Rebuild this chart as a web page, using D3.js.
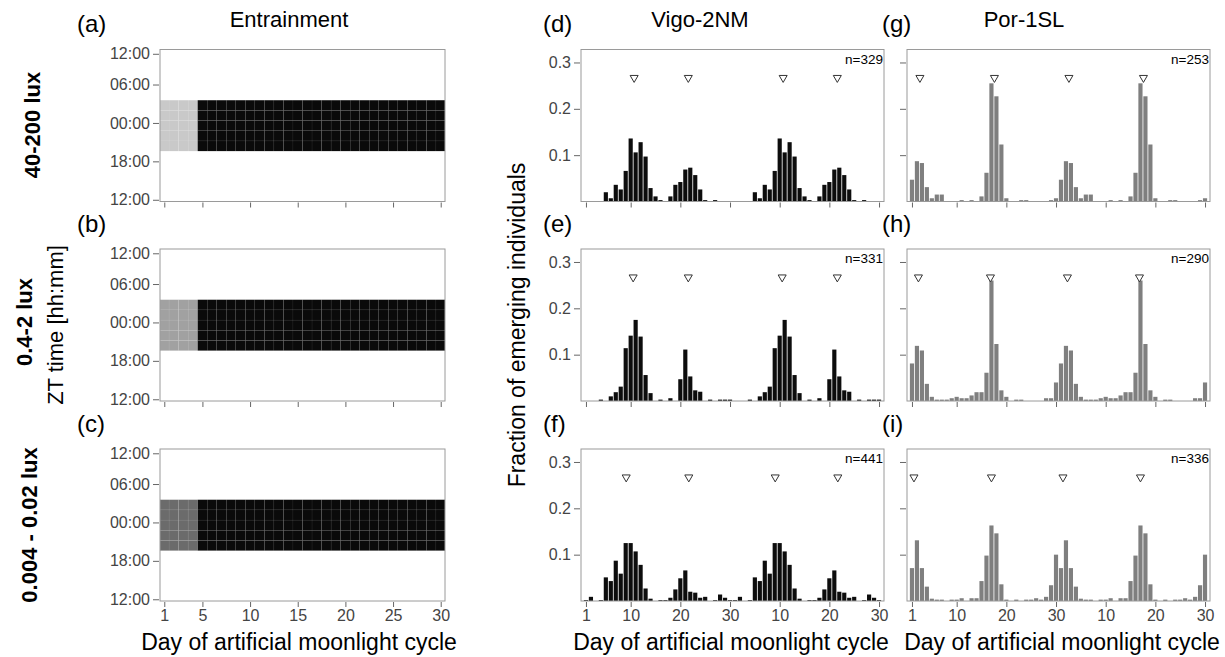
<!DOCTYPE html>
<html>
<head>
<meta charset="utf-8">
<script src="https://cdn.jsdelivr.net/npm/d3@7"></script>
<style>
  body { margin: 0; background: #fff; }
  svg { font-family: "Liberation Sans", Arial, Helvetica, sans-serif; }
  .tick line { stroke: #666; }
  .tick text { fill: #444; font-size: 16px; }
</style>
</head>
<body>
<div id="chart"></div>
<script>
// entrainment schedule
const lightLevels = ["40-200 lux", "0.4-2 lux", "0.004 - 0.02 lux"];
const moonGrey = ["#c9c9c9", "#a1a1a1", "#6b6b6b"];
const moonlightDays = [1, 2, 3, 4];
const nightStart = 19.6;   // ZT hours counted from 12:00
const nightEnd = 27.55;
const ztTicks = [12, 18, 24, 30, 34.8];
const ztLabels = ["12:00", "18:00", "00:00", "06:00", "12:00"];
const entrainTicks = [1, 5, 10, 15, 20, 25, 30];

// fraction of emerging individuals per day of moonlight cycle (days 1-30)
const vigoHigh = [0, 0, 0, 0, 0.020, 0.007, 0.036, 0.026, 0.066, 0.136, 0.106, 0.128, 0.097, 0.029, 0.011,
  0.003, 0, 0.011, 0.036, 0.042, 0.069, 0.073, 0.057, 0.026, 0.003, 0, 0.003, 0, 0, 0];
const vigoMid = [0, 0, 0, 0.003, 0, 0.010, 0.019, 0.031, 0.114, 0.141, 0.175, 0.139, 0.056, 0.017, 0,
  0.003, 0, 0.006, 0, 0.047, 0.111, 0.053, 0.023, 0.020, 0, 0.003, 0, 0.003, 0.003, 0.003];
const vigoLow = [0.002, 0.009, 0, 0.002, 0.051, 0.043, 0.087, 0.059, 0.125, 0.125, 0.107, 0.078, 0.027, 0.005, 0,
  0.002, 0.002, 0.007, 0.025, 0.049, 0.066, 0.020, 0.018, 0.007, 0.009, 0, 0.002, 0.014, 0.007, 0.002];
const porHigh = [0.047, 0.087, 0.083, 0.031, 0.007, 0.015, 0.015, 0, 0, 0, 0.003, 0, 0.003, 0, 0.011,
  0.062, 0.255, 0.227, 0.123, 0.007, 0, 0, 0.003, 0.003, 0, 0, 0, 0, 0.003, 0.007];
const porMid = [0.081, 0.119, 0.109, 0.037, 0.009, 0.003, 0.003, 0.003, 0.006, 0.009, 0.006, 0.006, 0.012, 0.019, 0.019,
  0.061, 0.260, 0.123, 0.023, 0.009, 0, 0.003, 0.003, 0, 0, 0, 0, 0.006, 0.006, 0.040];
const porLow = [0.071, 0.131, 0.071, 0.031, 0.005, 0.003, 0.003, 0, 0.003, 0.003, 0.006, 0, 0.006, 0.006, 0.043,
  0.098, 0.163, 0.146, 0.036, 0.003, 0, 0.003, 0, 0.003, 0.003, 0.006, 0.003, 0.009, 0.034, 0.100];

const vigoN = [329, 331, 441];
const porN = [253, 290, 336];
// emergence peak markers (day of cycle)
const vigoPeaks = [[10.7, 21.6], [10.5, 21.6], [9.1, 21.7]];
const porPeaks = [[2.6, 17.6], [2.3, 16.8], [1.4, 17.0]];
const peakLevel = 0.267;

const histTicks = [1, 10, 20, 30, 40, 50, 60];
const histTickLabels = ["1", "10", "20", "30", "10", "20", "30"];
const fracTicks = [0.1, 0.2, 0.3];

const W = 1225, H = 657;
const rowTop = [49.5, 249, 449];
const boxH = 152;
const col1 = [160, 445], col2 = [581, 884], col3 = [907, 1210];

const svg = d3.select("#chart").append("svg")
  .attr("width", W).attr("height", H);
svg.append("rect").attr("width", W).attr("height", H).attr("fill", "#fff");

const xEntrain = d3.scaleLinear().domain([0.55, 30.45]).range(col1);

function box(g, x0, x1, y0) {
  g.append("rect")
    .attr("x", x0).attr("y", y0)
    .attr("width", x1 - x0).attr("height", boxH)
    .attr("fill", "none").attr("stroke", "#9a9a9a").attr("stroke-width", 1);
}

// ---- entrainment panels (a)-(c)
lightLevels.forEach((lvl, r) => {
  const top = rowTop[r], bottom = top + boxH;
  const y = d3.scaleLinear().domain([11.73, 35.47]).range([bottom, top]);
  const g = svg.append("g");

  const rows = 5;
  const step = (nightEnd - nightStart) / rows;
  const cells = [];
  d3.range(1, 31).forEach(d => {
    d3.range(rows).forEach(k => cells.push({ day: d, h0: nightStart + k * step, h1: nightStart + (k + 1) * step }));
  });
  g.selectAll(".cell").data(cells).enter().append("rect")
    .attr("x", d => xEntrain(Math.max(d.day - 0.5, 0.55)))
    .attr("width", d => xEntrain(Math.min(d.day + 0.5, 30.45)) - xEntrain(Math.max(d.day - 0.5, 0.55)))
    .attr("y", d => y(d.h1))
    .attr("height", d => y(d.h0) - y(d.h1))
    .attr("fill", d => moonlightDays.includes(d.day) ? moonGrey[r] : "#0a0a0a")
    .attr("stroke", "rgba(255,255,255,0.08)")
    .attr("stroke-width", 0.5);

  box(g, col1[0], col1[1], top);

  g.append("g")
    .attr("transform", `translate(${col1[0] - 1},0)`)
    .call(d3.axisLeft(y).tickValues(ztTicks).tickSize(6).tickSizeOuter(0)
      .tickFormat((d, i) => ztLabels[i]))
    .call(a => a.select(".domain").remove());

  g.append("g")
    .attr("transform", `translate(0,${bottom + 1})`)
    .call(d3.axisBottom(xEntrain).tickValues(entrainTicks).tickSize(5).tickSizeOuter(0)
      .tickFormat(r === 2 ? d3.format("d") : ""))
    .call(a => a.select(".domain").remove());

  svg.append("text")
    .attr("transform", `translate(${[40, 32, 37][r]},${[125, 322, 525][r]}) rotate(-90)`)
    .attr("text-anchor", "middle")
    .attr("font-weight", "bold").attr("font-size", 22)
    .text(lvl);
});

// ---- histogram panels (d)-(i)
function histPanel(values, n, peaks, top, xr, fill, showY, showX) {
  const bottom = top + boxH;
  const x = d3.scaleLinear().domain([0, 61]).range(xr);
  const y = d3.scaleLinear().domain([0, 0.328]).range([bottom, top]);
  const g = svg.append("g");
  const dw = x(1) - x(0);

  const doubled = d3.range(1, 61).map(d => ({ day: d, v: values[(d - 1) % 30] }));
  g.selectAll(".bar").data(doubled.filter(d => d.v > 0)).enter().append("rect")
    .attr("x", d => x(d.day) - dw / 2 + 0.4)
    .attr("width", dw - 0.8)
    .attr("y", d => y(d.v))
    .attr("height", d => y(0) - y(d.v))
    .attr("fill", fill);

  const marks = peaks.concat(peaks.map(p => p + 30));
  g.selectAll(".peak").data(marks).enter().append("path")
    .attr("d", d3.symbol().type(d3.symbolTriangle).size(28))
    .attr("transform", d => `translate(${x(d)},${y(peakLevel)}) rotate(180)`)
    .attr("fill", "#fff").attr("stroke", "#333").attr("stroke-width", 1);

  box(g, xr[0], xr[1], top);

  g.append("text")
    .attr("x", xr[1] - 1).attr("y", top + 14)
    .attr("text-anchor", "end").attr("font-size", 13.5)
    .text("n=" + n);

  g.append("g")
    .attr("transform", `translate(${xr[0] - 1},0)`)
    .call(d3.axisLeft(y).tickValues(fracTicks).tickSize(6).tickSizeOuter(0)
      .tickFormat(showY ? d3.format(".1f") : ""))
    .call(a => a.select(".domain").remove());

  g.append("g")
    .attr("transform", `translate(0,${bottom + 1})`)
    .call(d3.axisBottom(x).tickValues(histTicks).tickSize(5).tickSizeOuter(0)
      .tickFormat((d, i) => showX ? histTickLabels[i] : ""))
    .call(a => a.select(".domain").remove());
}

const vigoSeries = [vigoHigh, vigoMid, vigoLow];
const porSeries = [porHigh, porMid, porLow];
[0, 1, 2].forEach(r => {
  histPanel(vigoSeries[r], vigoN[r], vigoPeaks[r], rowTop[r], col2, "#0d0d0d", true, r === 2);
  histPanel(porSeries[r], porN[r], porPeaks[r], rowTop[r], col3, "#7f7f7f", false, r === 2);
});

// ---- labels
const letters = [
  ["(a)", 77, 32], ["(b)", 77, 232], ["(c)", 77, 432],
  ["(d)", 543, 32], ["(e)", 543, 232], ["(f)", 543, 432],
  ["(g)", 882, 32], ["(h)", 882, 232], ["(i)", 882, 432]
];
svg.selectAll(".letter").data(letters).enter().append("text")
  .attr("x", d => d[1]).attr("y", d => d[2])
  .attr("font-size", 24)
  .text(d => d[0]);

const titles = [["Entrainment", 289], ["Vigo-2NM", 700], ["Por-1SL", 1024]];
svg.selectAll(".title").data(titles).enter().append("text")
  .attr("x", d => d[1]).attr("y", 27)
  .attr("text-anchor", "middle").attr("font-size", 22)
  .text(d => d[0]);

[299, 731, 1062].forEach(cx => {
  svg.append("text")
    .attr("x", cx).attr("y", 650)
    .attr("text-anchor", "middle").attr("font-size", 23)
    .text("Day of artificial moonlight cycle");
});

svg.append("text")
  .attr("transform", "translate(63,325) rotate(-90)")
  .attr("text-anchor", "middle").attr("font-size", 22)
  .text("ZT time [hh:mm]");

svg.append("text")
  .attr("transform", "translate(525,325) rotate(-90)")
  .attr("text-anchor", "middle").attr("font-size", 23)
  .text("Fraction of emerging individuals");
</script>
</body>
</html>
